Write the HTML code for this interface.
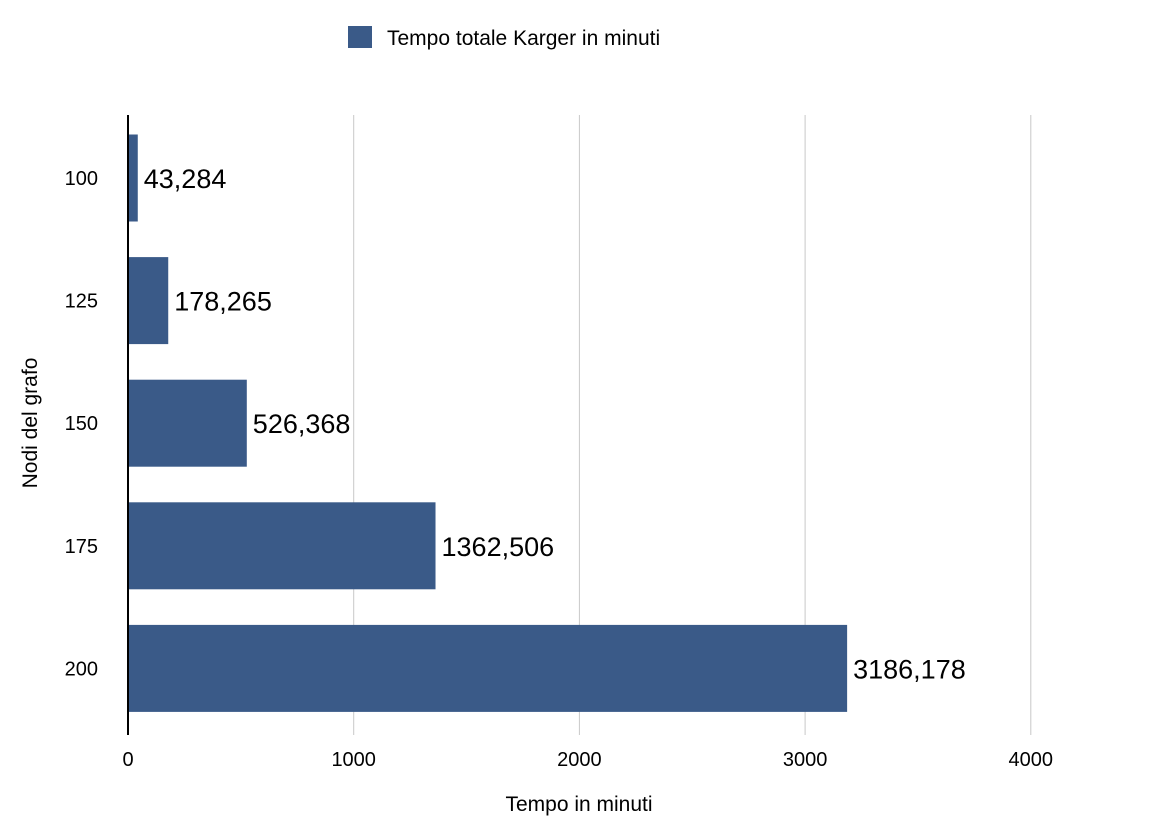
<!DOCTYPE html>
<html><head><meta charset="utf-8"><style>
body{margin:0;background:#fff;font-family:"Liberation Sans",sans-serif;}
svg text{font-family:"Liberation Sans",sans-serif;}
</style></head><body>
<svg id="chart" width="1153" height="832" xmlns="http://www.w3.org/2000/svg">
<g>
<rect x="348" y="26" width="24" height="22" fill="#3a5a88"/>
<text x="387" y="45" font-size="21" fill="#000">Tempo totale Karger in minuti</text>
</g>
<g id="grid"></g><g id="bars"></g><g id="labels"></g>
<line x1="128" y1="115" x2="128" y2="735" stroke="#000" stroke-width="2"/>
<text x="579" y="811" font-size="21" text-anchor="middle">Tempo in minuti</text>
<text transform="translate(37,423) rotate(-90)" font-size="21" text-anchor="middle">Nodi del grafo</text>
</svg>
<script>
const categories=["100","125","150","175","200"];
const values=[43.284,178.265,526.368,1362.506,3186.178];
const valueLabels=["43,284","178,265","526,368","1362,506","3186,178"];
const xTicks=[0,1000,2000,3000,4000];
const NS="http://www.w3.org/2000/svg";
const x0=128,pxPer=0.2257,plotTop=116.7,band=122.6,bh=87;
const xs=v=>x0+v*pxPer;
const yc=i=>plotTop+band*(i+0.5);
function mk(t,a,p){const e=document.createElementNS(NS,t);for(const k in a)e.setAttribute(k,a[k]);p.appendChild(e);return e;}
const g=document.getElementById('grid'),b=document.getElementById('bars'),l=document.getElementById('labels');
xTicks.forEach(t=>{
 if(t>0){const ln=mk('line',{x1:xs(t),x2:xs(t),y1:115,y2:735,stroke:'#c8c8c8','stroke-width':1},g);
 
 }
 const tx=mk('text',{x:xs(t),y:766,'font-size':20,'text-anchor':'middle'},l);tx.textContent=t;
 
 
});
categories.forEach((c,i)=>{
 const r=mk('rect',{x:x0,y:yc(i)-bh/2,width:xs(values[i])-x0,height:bh,fill:'#3a5a88'},b);
 
 
 const t=mk('text',{x:98,y:yc(i)+7,'font-size':20,'text-anchor':'end'},l);t.textContent=c;
 
 
 const v=mk('text',{x:xs(values[i])+6,y:yc(i)+10,'font-size':27},l);v.textContent=valueLabels[i];
 
 
});
</script>
</body></html>
